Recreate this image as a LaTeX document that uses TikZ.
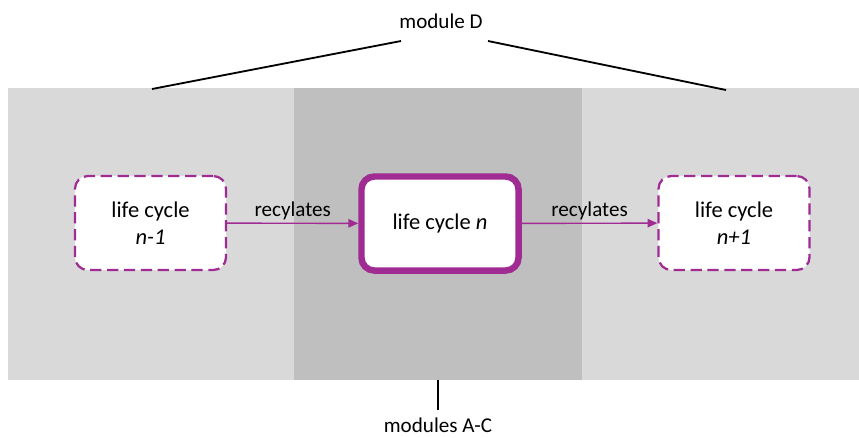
\documentclass[tikz,border=0pt]{standalone}
\usepackage{fontspec}
\setmainfont{Carlito}
\usetikzlibrary{arrows.meta}
\definecolor{cyclepurple}{HTML}{A02B93}
\definecolor{bandlight}{HTML}{D9D9D9}
\definecolor{banddark}{HTML}{BFBFBF}
\tikzset{
    cyclebox/.style={draw=cyclepurple, fill=white, rounded corners=0.32cm,
        minimum width=3.775cm, minimum height=2.35cm, align=center,
        font=\fontsize{16}{19}\selectfont},
    cycledash/.style={cyclebox, line width=1.6pt, dash pattern=on 8pt off 4pt},
    cyclemain/.style={cyclebox, line width=4.6pt, minimum width=3.925cm},
    flow/.style={draw=cyclepurple, line width=1pt, -{Triangle[length=7pt,width=6pt]}},
    flowlabel/.style={above, inner sep=2pt, font=\fontsize{15}{18}\selectfont},
    modlabel/.style={inner sep=1pt, font=\fontsize{15}{18}\selectfont}
}

\begin{document}
\begin{tikzpicture}[x=0.025cm, y=-0.025cm]
        \useasboundingbox (0, 0) rectangle (859, 437);
        \fill[bandlight] (8, 88) rectangle (859, 380);
        \fill[banddark] (294, 88) rectangle (582, 380);
        \node[cycledash] (prev) at (150.5, 223) {life cycle\\\textit{n-1}};
        \node[cyclemain] (cur) at (440, 223.5) {life cycle \textit{n}};
        \node[cycledash] (next) at (734, 223) {life cycle\\\textit{n+1}};
        \draw[flow] (prev) -- node[flowlabel] {recylates} (cur);
        \draw[flow] (cur) -- node[flowlabel] {recylates} (next);
        \node[modlabel] (modD) at (441, 21) {module D};
        \coordinate (dL) at (152, 89);
        \coordinate (dR) at (726, 90);
        \coordinate (dLtop) at (401, 41);
        \coordinate (dRtop) at (488, 41);
        \draw[line width=1.3pt] (dL) -- (dLtop);
        \draw[line width=1.3pt] (dRtop) -- (dR);
        \node[modlabel] (modAC) at (438, 425) {modules A-C};
        \coordinate (acTop) at (438, 380);
        \coordinate (acBot) at (438, 410);
        \draw[line width=1.3pt] (acTop) -- (acBot);
    \end{tikzpicture}
\end{document}
